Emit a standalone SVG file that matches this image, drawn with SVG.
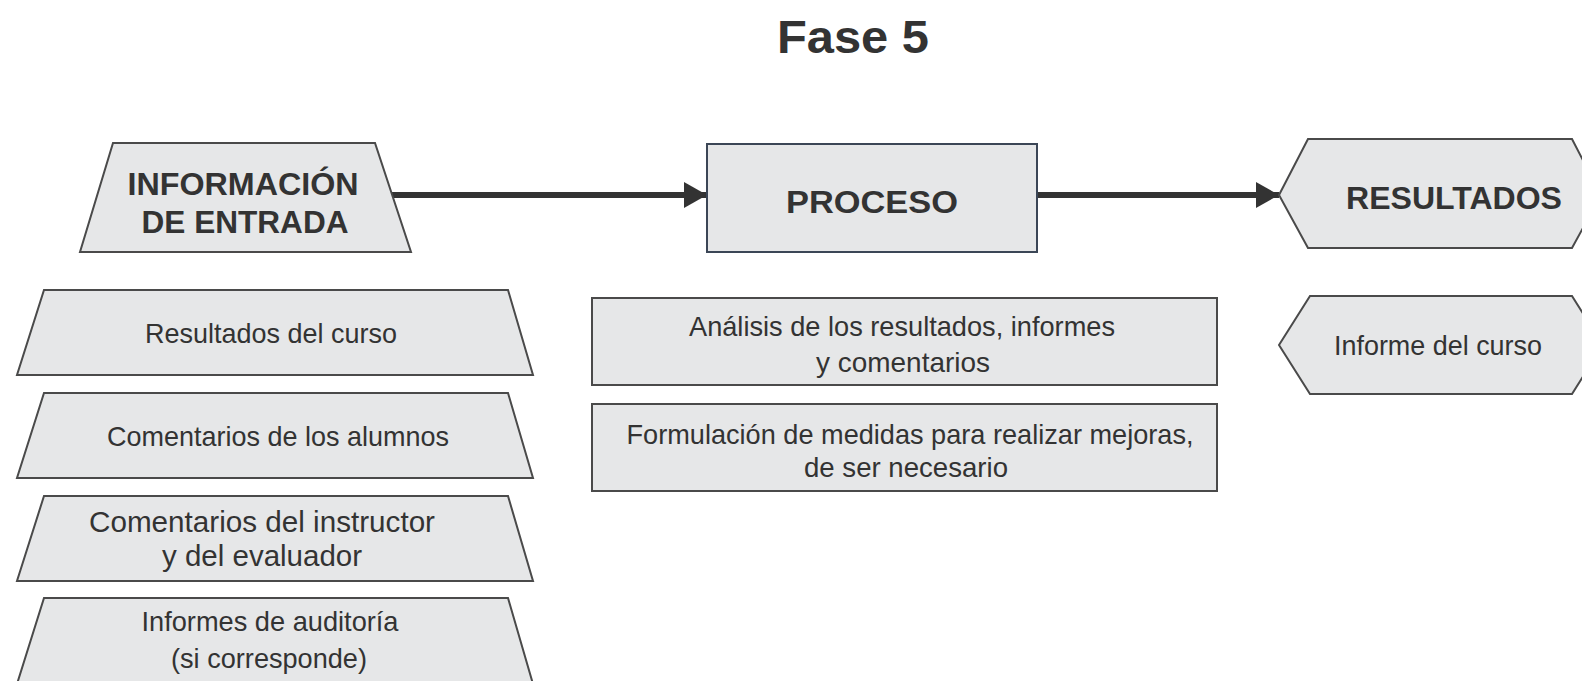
<svg xmlns="http://www.w3.org/2000/svg" width="1582" height="681" viewBox="0 0 1582 681">
  <style>
    .shape { fill: #e6e7e8; stroke: #4a4a4a; stroke-width: 2; stroke-linejoin: miter; }
    .proc { fill: #e6e7e8; stroke: #3b4656; stroke-width: 2; }
    .hdr { font-family: "Liberation Sans", Arial, sans-serif; font-weight: bold; font-size: 31px; fill: #333333; text-anchor: middle; }
    .txt { font-family: "Liberation Sans", Arial, sans-serif; font-size: 28px; fill: #333333; text-anchor: middle; }
    .txt2 { font-family: "Liberation Sans", Arial, sans-serif; font-size: 30px; fill: #333333; text-anchor: middle; }
    .title { font-family: "Liberation Sans", Arial, sans-serif; font-weight: bold; font-size: 46px; fill: #333333; text-anchor: middle; }
    .conn { stroke: #333333; stroke-width: 6; fill: none; }
  </style>
  <defs>
    <marker id="arrow" markerUnits="userSpaceOnUse" markerWidth="24" markerHeight="26" refX="23" refY="13" orient="auto">
      <path d="M0,0 L23,13 L0,26 Z" fill="#333333"/>
    </marker>
  </defs>
  <rect width="1582" height="681" fill="#ffffff"/>

  <text class="title" x="853" y="53" textLength="152" lengthAdjust="spacingAndGlyphs">Fase 5</text>

  <g id="connectors">
    <line class="conn" x1="390" y1="195" x2="707" y2="195" marker-end="url(#arrow)"/>
    <line class="conn" x1="1037" y1="195" x2="1279" y2="195" marker-end="url(#arrow)"/>
  </g>

  <g id="informacion-entrada">
    <polygon class="shape" points="113,143 375,143 411,252 80,252"/>
    <text class="hdr" x="243" y="195" textLength="231" lengthAdjust="spacingAndGlyphs">INFORMACIÓN</text>
    <text class="hdr" x="245" y="233" textLength="207" lengthAdjust="spacingAndGlyphs">DE ENTRADA</text>
  </g>

  <g id="proceso">
    <rect class="proc" x="707" y="144" width="330" height="108"/>
    <text class="hdr" x="872" y="213" textLength="172" lengthAdjust="spacingAndGlyphs">PROCESO</text>
  </g>

  <g id="resultados">
    <polygon class="shape" points="1279,195 1308,139 1572,139 1601,195 1572,248 1308,248"/>
    <text class="hdr" x="1454" y="209" textLength="216" lengthAdjust="spacingAndGlyphs">RESULTADOS</text>
  </g>

  <g id="in-resultados-curso">
    <polygon class="shape" points="44,290 508,290 533,375 17,375"/>
    <text class="txt" x="271" y="343" textLength="252" lengthAdjust="spacingAndGlyphs">Resultados del curso</text>
  </g>

  <g id="in-comentarios-alumnos">
    <polygon class="shape" points="44,393 508,393 533,478 17,478"/>
    <text class="txt" x="278" y="446" textLength="342" lengthAdjust="spacingAndGlyphs">Comentarios de los alumnos</text>
  </g>

  <g id="in-comentarios-instructor">
    <polygon class="shape" points="44,496 508,496 533,581 17,581"/>
    <text class="txt2" x="262" y="532" textLength="346" lengthAdjust="spacingAndGlyphs">Comentarios del instructor</text>
    <text class="txt2" x="262" y="566" textLength="200" lengthAdjust="spacingAndGlyphs">y del evaluador</text>
  </g>

  <g id="in-informes-auditoria">
    <polygon class="shape" points="44,598 508,598 533,684 17,684"/>
    <text class="txt" x="270" y="631" textLength="257" lengthAdjust="spacingAndGlyphs">Informes de auditoría</text>
    <text class="txt" x="269" y="668" textLength="196" lengthAdjust="spacingAndGlyphs">(si corresponde)</text>
  </g>

  <g id="proc-analisis">
    <rect class="shape" x="592" y="298" width="625" height="87"/>
    <text class="txt" x="902" y="336" textLength="426" lengthAdjust="spacingAndGlyphs">Análisis de los resultados, informes</text>
    <text class="txt" x="903" y="372" textLength="174" lengthAdjust="spacingAndGlyphs">y comentarios</text>
  </g>

  <g id="proc-formulacion">
    <rect class="shape" x="592" y="404" width="625" height="87"/>
    <text class="txt" x="910" y="444" textLength="567" lengthAdjust="spacingAndGlyphs">Formulación de medidas para realizar mejoras,</text>
    <text class="txt" x="906" y="477" textLength="204" lengthAdjust="spacingAndGlyphs">de ser necesario</text>
  </g>

  <g id="out-informe-curso">
    <polygon class="shape" points="1279,345 1310,296 1572,296 1603,345 1572,394 1310,394"/>
    <text class="txt" x="1438" y="355" textLength="208" lengthAdjust="spacingAndGlyphs">Informe del curso</text>
  </g>
</svg>
